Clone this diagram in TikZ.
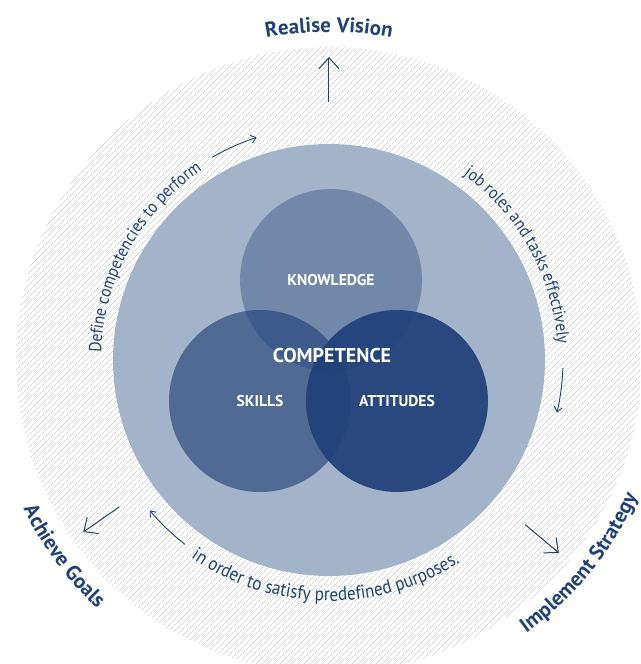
\documentclass[tikz,border=0pt]{standalone}
\usepackage{fontspec}
\setmainfont{PT Sans}
\newfontfamily\ringfont[FakeStretch=0.9]{PT Sans}
\usetikzlibrary{decorations.text, patterns.meta, arrows.meta}
\definecolor{ringblue}{RGB}{163, 179, 201}
\definecolor{deepblue}{RGB}{31, 65, 120}
\definecolor{hatchgray}{RGB}{212, 212, 212}

\begin{document}
\begin{tikzpicture}[x=1pt, y=1pt,
    setcircle/.style={circle, fill=deepblue, minimum size=182pt, inner sep=0pt, text=white, text opacity=1, font=\bfseries\fontsize{15.6}{16}\selectfont},
    flowarrow/.style={-{Straight Barb[length=5pt, width=8pt]}, deepblue, line width=0.9pt},
    radialarrow/.style={-{Straight Barb[length=11pt, width=20pt]}, deepblue, line width=1pt},
    ringtext/.style 2 args={decorate, decoration={text along path, text align=center, text={|\ringfont\fontsize{#1}{#1}\selectfont\color{deepblue}|#2}}},
    goaltext/.style={decorate, decoration={text along path, text align=center, text={|\bfseries\fontsize{21}{21}\selectfont\color{deepblue}|#1}}}
]
\useasboundingbox (-329,-304) rectangle (311,360);
\clip (-329,-304) rectangle (311,360);

% Rings
\fill[pattern={Lines[angle=45, distance=4pt, line width=0.8pt]}, pattern color=hatchgray] (0,0) circle (313);
\fill[ringblue] (0,0) circle (216);

% Sets
\node[setcircle, fill opacity=0.37] (knowledge) at (2,80) {KNOWLEDGE};
\node[setcircle, fill opacity=0.64] (skills) at (-69,-41) {SKILLS};
\node[setcircle, fill opacity=0.92] (attitudes) at (68,-41) {ATTITUDES};
\node[text=white, font=\bfseries\fontsize{20}{20}\selectfont] (competence) at (3,5) {COMPETENCE};

% Ring texts
\path[ringtext={17.5}{Define competencies to perform}] (190:228) arc[start angle=190, end angle=112, radius=228];
\path[ringtext={17.5}{job roles and tasks effectively}] (68:229) arc[start angle=68, end angle=-10, radius=229];
\path[ringtext={19}{in order to satisfy predefined purposes.}] (-140:241) arc[start angle=-140, end angle=-42, radius=241];

% Goals
\path[goaltext={Realise Vision}] (110:328) arc[start angle=110, end angle=70, radius=328];
\path[goaltext={Achieve Goals}] (196:340) arc[start angle=196, end angle=237, radius=340];
\path[goaltext={Implement Strategy}] (-62:337) arc[start angle=-62, end angle=-16, radius=337];

% Arrows
\coordinate (visiontail) at (90:258);
\coordinate (visionhead) at (90:303);
\coordinate (goalstail) at (215:256);
\coordinate (goalshead) at (215:300);
\coordinate (strategytail) at (-40:256);
\coordinate (strategyhead) at (-40:300);
\draw[radialarrow] (visiontail) -- (visionhead);
\draw[radialarrow] (goalstail) -- (goalshead);
\draw[radialarrow] (strategytail) -- (strategyhead);

\coordinate (performarc) at (120:234);
\coordinate (effectarc) at (-2:234);
\coordinate (purposearc) at (232:234);
\draw[flowarrow] (performarc) arc[start angle=120, end angle=108, radius=234];
\draw[flowarrow] (effectarc) arc[start angle=-2, end angle=-13, radius=234];
\draw[flowarrow] (purposearc) arc[start angle=232, end angle=220, radius=234];

\end{tikzpicture}
\end{document}
